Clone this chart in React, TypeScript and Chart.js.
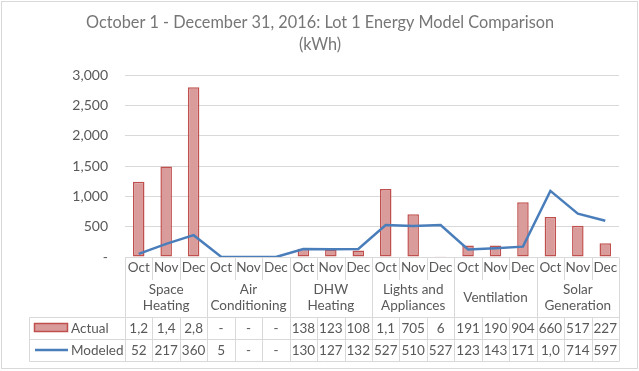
import React, { useEffect, useRef } from "react";
import { Chart, registerables } from "chart.js";

Chart.register(...registerables);

const titleLines = ["October 1 - December 31, 2016: Lot 1 Energy Model Comparison", "(kWh)"];
const months = ["Oct", "Nov", "Dec"];
const groups: string[][] = [
  ["Space", "Heating"],
  ["Air", "Conditioning"],
  ["DHW", "Heating"],
  ["Lights and", "Appliances"],
  ["Ventilation"],
  ["Solar", "Generation"],
];
const actualValues = [1240, 1490, 2800, 0, 0, 0, 138, 123, 108, 1120, 705, 6, 191, 190, 904, 660, 517, 227];
const modeledValues = [52, 217, 360, 5, 0, 0, 130, 127, 132, 527, 510, 527, 123, 143, 171, 1090, 714, 597];
const actualTableText = ["1,2", "1,4", "2,8", "-", "-", "-", "138", "123", "108", "1,1", "705", "6", "191", "190", "904", "660", "517", "227"];
const modeledTableText = ["52", "217", "360", "5", "-", "-", "130", "127", "132", "527", "510", "527", "123", "143", "171", "1,0", "714", "597"];
const yTickMax = 3000;
const yTickStep = 500;

const FONT = "Lato, 'Open Sans', sans-serif";
const TEXT = "#595959";
const GRID = "#d9d9d9";
const BAR_FILL = "#d99c9b";
const BAR_BORDER = "#c0504d";
const LINE = "#4a7ebb";

const labels = groups.flatMap(() => months);

const tablePlugin = {
  id: "dataTable",
  beforeDraw(chart: any) {
    const ctx = chart.ctx;
    ctx.save();
    ctx.fillStyle = "#fff";
    ctx.fillRect(0, 0, chart.width, chart.height);
    ctx.strokeStyle = GRID;
    ctx.lineWidth = 1;
    ctx.strokeRect(1.5, 1.5, 636, 367);
    // title
    ctx.fillStyle = "#767676";
    ctx.font = `16.3px ${FONT}`;
    ctx.textAlign = "center";
    ctx.textBaseline = "middle";
    ctx.fillText(titleLines[0], 320, 23);
    ctx.fillText(titleLines[1], 320, 45);
    ctx.restore();
  },
  afterDraw(chart: any) {
    const ctx = chart.ctx;
    const { left, right, bottom } = chart.chartArea;
    const n = labels.length;
    const w = (right - left) / n;
    const tableLeft = 29.5;
    const monthBottom = 280;
    const rowTop = 317.5;
    const rowMid = 339.5;
    const rowBottom = 361.5;
    const b = Math.round(bottom) + 0.5;
    ctx.save();
    ctx.strokeStyle = GRID;
    ctx.lineWidth = 1;
    ctx.beginPath();
    ctx.moveTo(left, b);
    ctx.lineTo(right, b);
    ctx.moveTo(tableLeft, rowTop);
    ctx.lineTo(right, rowTop);
    ctx.moveTo(tableLeft, rowMid);
    ctx.lineTo(right, rowMid);
    ctx.moveTo(tableLeft, rowBottom);
    ctx.lineTo(right, rowBottom);
    ctx.moveTo(tableLeft, rowTop);
    ctx.lineTo(tableLeft, rowBottom);
    for (let i = 0; i <= n; i++) {
      const x = Math.round(left + i * w) + 0.5;
      if (i % 3 === 0) {
        ctx.moveTo(x, b);
        ctx.lineTo(x, rowBottom);
      } else {
        ctx.moveTo(x, b);
        ctx.lineTo(x, monthBottom);
        ctx.moveTo(x, rowTop);
        ctx.lineTo(x, rowBottom);
      }
    }
    ctx.stroke();

    ctx.fillStyle = TEXT;
    ctx.font = `13.5px ${FONT}`;
    ctx.textAlign = "center";
    ctx.textBaseline = "middle";
    const xs = chart.scales.x;
    for (let i = 0; i < n; i++) {
      const cx = xs.getPixelForValue(i);
      ctx.fillText(labels[i], cx, 268);
      ctx.fillText(actualTableText[i], cx, 328.5);
      ctx.fillText(modeledTableText[i], cx, 350.5);
    }
    groups.forEach((g, gi) => {
      const cx = left + (gi * 3 + 1.5) * w;
      if (g.length === 1) {
        ctx.fillText(g[0], cx, 298);
      } else {
        ctx.fillText(g[0], cx, 290);
        ctx.fillText(g[1], cx, 306);
      }
    });
    ctx.fillStyle = BAR_FILL;
    ctx.fillRect(34.5, 323.5, 33, 8);
    ctx.strokeStyle = BAR_BORDER;
    ctx.lineWidth = 1.5;
    ctx.strokeRect(34.5, 323.5, 33, 8);
    ctx.strokeStyle = LINE;
    ctx.lineWidth = 2.5;
    ctx.beginPath();
    ctx.moveTo(35, 350);
    ctx.lineTo(68, 350);
    ctx.stroke();
    ctx.fillStyle = TEXT;
    ctx.textAlign = "left";
    ctx.fillText("Actual", 71, 328.5);
    ctx.fillText("Modeled", 71, 350.5);
    ctx.restore();
  },
};

export default function App() {
  const ref = useRef<HTMLCanvasElement>(null);
  useEffect(() => {
    document.body.style.margin = "0";
    const chart = new Chart(ref.current!, {
      type: "bar",
      data: {
        labels,
        datasets: [
          {
            type: "line",
            label: "Modeled",
            data: modeledValues,
            borderColor: LINE,
            backgroundColor: LINE,
            borderWidth: 2.5,
            pointRadius: 0,
            tension: 0,
            order: 0,
          } as any,
          {
            type: "bar",
            label: "Actual",
            data: actualValues,
            backgroundColor: BAR_FILL,
            borderColor: BAR_BORDER,
            borderWidth: 1.5,
            borderSkipped: false,
            barPercentage: 0.42,
            categoryPercentage: 1,
            order: 1,
          },
        ],
      },
      options: {
        responsive: false,
        animation: false,
        layout: { padding: { left: 0, right: 20, top: 75, bottom: 114 } },
        plugins: { legend: { display: false }, title: { display: false }, tooltip: { enabled: false } },
        scales: {
          x: { display: false, offset: true },
          y: {
            min: 0,
            max: yTickMax,
            afterFit(scale: any) {
              scale.width = 125;
            },
            border: { display: false },
            grid: { color: GRID, drawTicks: false },
            ticks: {
              stepSize: yTickStep,
              padding: 17,
              color: TEXT,
              font: { family: FONT, size: 14 },
              callback: (v: any) => (v === 0 ? "-" : Number(v).toLocaleString("en-US")),
            },
          },
        },
      },
      plugins: [tablePlugin],
    });
    return () => chart.destroy();
  }, []);
  return (
    <div style={{ position: "absolute", left: 0, top: 0 }}>
      <canvas ref={ref} width={639} height={371} />
    </div>
  );
}
